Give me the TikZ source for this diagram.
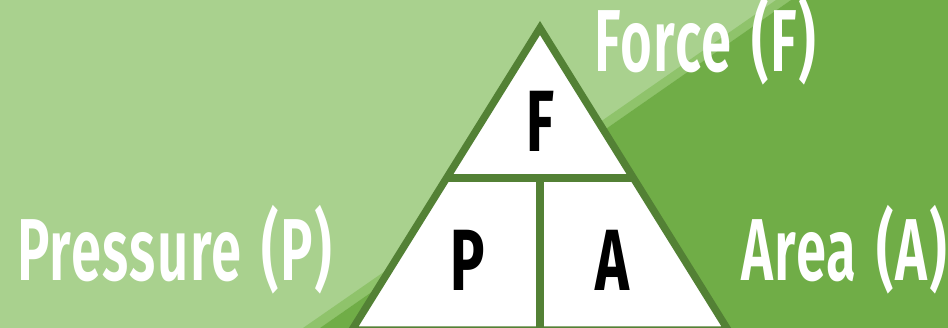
\documentclass[tikz,border=0pt]{standalone}
\usepackage{fontspec}
\setmainfont{Fira Sans}[FakeStretch=0.66]
\newfontfamily\labelfont{Fira Sans SemiBold}[FakeStretch=0.62, LetterSpace=1.6, WordSpace=1.35]
\usepackage{tikz}
\usepackage{xcolor}
\definecolor{bglight}{HTML}{A9D18E}
\definecolor{bgband}{HTML}{8FC36B}
\definecolor{bgdark}{HTML}{70AD47}
\definecolor{edgegreen}{HTML}{538135}
\tikzset{
  labeltext/.style = {
    text=white,
    font=\labelfont\fontsize{88}{90}\selectfont,
    inner sep=0pt,
    anchor=base west
  },
  letter/.style = {
    text=black,
    font=\fontsize{87}{90}\selectfont\bfseries,
    inner sep=0pt,
    anchor=base
  },
  triline/.style = {
    draw=edgegreen,
    line width=7.4pt,
    miter limit=20
  }
}

\begin{document}
\begin{tikzpicture}[x=1pt,y=-1pt]
    \useasboundingbox (0,0) rectangle (948,328);
    \clip (0,0) rectangle (948,328);
    % background
    \fill[bglight] (0,0) rectangle (948,328);
    \fill[bgband] (776,0) -- (791,0) -- (320,328) -- (303,328) -- cycle;
    \fill[bgdark] (791,0) -- (948,0) -- (948,328) -- (320,328) -- cycle;
    % triangle
    \coordinate (top) at (540,28);
    \coordinate (bl) at (352,330);
    \coordinate (br) at (728,330);
    \filldraw[fill=white, triline] (top) -- (br) -- (bl) -- cycle;
    \draw[triline] (446.7,178) -- (633.3,178);
    \draw[triline] (540,178) -- (540,330);
    \node[letter] (letF) at (540,152) {F};
    \node[letter] (letP) at (468,291) {P};
    \node[letter] (letA) at (612,291) {A};
    % labels
    \node[labeltext] (force) at (594,72) {Force (F)};
    \node[labeltext] (pressure) at (17,281) {Pressure (P)};
    \node[labeltext] (area) at (741,281) {Area (A)};
\end{tikzpicture}
\end{document}
